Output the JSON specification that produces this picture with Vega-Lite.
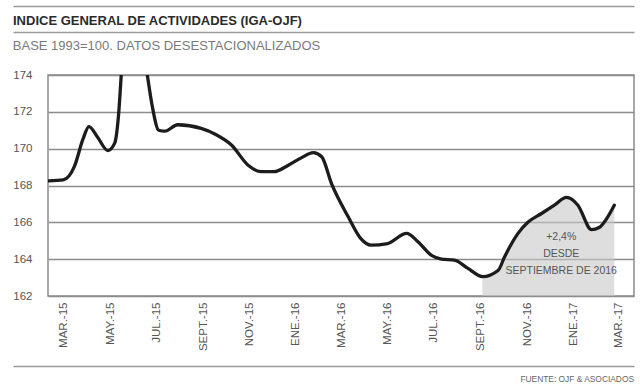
{
  "$schema": "https://vega.github.io/schema/vega-lite/v6.json",
  "padding": {"left": 12, "top": 6, "right": 0, "bottom": 0},
  "background": "white",
  "config": {
    "view": {"stroke": "#8c8c8c", "strokeWidth": 1.5},
    "title": {"fontWeight": "normal"}
  },
  "datasets": {
    "iga": [
      {"fecha": "2015-02-09", "valor": 168.25},
      {"fecha": "2015-02-28", "valor": 168.3},
      {"fecha": "2015-03-15", "valor": 169.05},
      {"fecha": "2015-03-26", "valor": 170.5},
      {"fecha": "2015-04-03", "valor": 171.2},
      {"fecha": "2015-04-14", "valor": 170.65},
      {"fecha": "2015-04-28", "valor": 169.9},
      {"fecha": "2015-05-07", "valor": 170.3},
      {"fecha": "2015-05-12", "valor": 171.8},
      {"fecha": "2015-05-16", "valor": 174.2},
      {"fecha": "2015-06-02", "valor": 179.0},
      {"fecha": "2015-06-19", "valor": 174.0},
      {"fecha": "2015-06-26", "valor": 172.2},
      {"fecha": "2015-07-04", "valor": 171.0},
      {"fecha": "2015-07-12", "valor": 170.95},
      {"fecha": "2015-07-29", "valor": 171.3},
      {"fecha": "2015-08-29", "valor": 171.1},
      {"fecha": "2015-09-16", "valor": 170.8},
      {"fecha": "2015-10-08", "valor": 170.2},
      {"fecha": "2015-10-30", "valor": 169.1},
      {"fecha": "2015-11-16", "valor": 168.75},
      {"fecha": "2015-12-03", "valor": 168.75},
      {"fecha": "2015-12-22", "valor": 169.1},
      {"fecha": "2016-01-08", "valor": 169.5},
      {"fecha": "2016-01-24", "valor": 169.78},
      {"fecha": "2016-02-04", "valor": 169.56},
      {"fecha": "2016-02-17", "valor": 168.1},
      {"fecha": "2016-03-10", "valor": 166.3},
      {"fecha": "2016-03-27", "valor": 165.1},
      {"fecha": "2016-04-09", "valor": 164.76},
      {"fecha": "2016-05-01", "valor": 164.85},
      {"fecha": "2016-05-26", "valor": 165.4},
      {"fecha": "2016-06-10", "valor": 164.95},
      {"fecha": "2016-06-28", "valor": 164.2},
      {"fecha": "2016-07-11", "valor": 164.0},
      {"fecha": "2016-07-28", "valor": 163.95},
      {"fecha": "2016-08-15", "valor": 163.5},
      {"fecha": "2016-09-03", "valor": 163.05},
      {"fecha": "2016-09-24", "valor": 163.4},
      {"fecha": "2016-10-02", "valor": 164.1},
      {"fecha": "2016-10-20", "valor": 165.4},
      {"fecha": "2016-11-02", "valor": 166.0},
      {"fecha": "2016-11-20", "valor": 166.48},
      {"fecha": "2016-12-07", "valor": 166.93},
      {"fecha": "2016-12-23", "valor": 167.35},
      {"fecha": "2017-01-07", "valor": 166.93},
      {"fecha": "2017-01-25", "valor": 165.6},
      {"fecha": "2017-02-04", "valor": 165.72},
      {"fecha": "2017-02-24", "valor": 166.93}
    ],
    "nota": [
      {"fecha": "2016-12-16", "valor": 165.22}
    ]
  },
  "align": "none",
  "bounds": "full",
  "spacing": 14,
  "vconcat": [
    {
      "align": "none",
      "bounds": "full",
      "spacing": 6,
      "vconcat": [
        {
          "align": "none",
          "bounds": "full",
          "spacing": 4,
          "vconcat": [
            {
              "width": 586,
              "height": 0.5,
              "view": {"stroke": null},
              "data": {"values": []},
              "mark": "point",
              "encoding": {
                "x": {
                  "field": "a",
                  "type": "quantitative",
                  "scale": {"domain": [0, 1], "range": [-35, 586]},
                  "axis": {"orient": "top", "labels": false, "ticks": false, "grid": false, "title": null, "domain": true, "domainColor": "#9a9a9a", "domainWidth": 1.6}
                }
              },
              "title": {
                "text": "INDICE GENERAL DE ACTIVIDADES (IGA-OJF)",
                "orient": "bottom",
                "anchor": "start",
                "frame": "group",
                "dx": -35,
                "font": "Liberation Sans",
                "fontWeight": "bold",
                "fontSize": 13,
                "color": "#2b2b2b",
                "baseline": "top",
                "offset": 8
              }
            },
            {
              "width": 586,
              "height": 0.5,
              "view": {"stroke": null},
              "data": {"values": []},
              "mark": "point",
              "encoding": {
                "x": {
                  "field": "a",
                  "type": "quantitative",
                  "scale": {"domain": [0, 1], "range": [-35, 586]},
                  "axis": {"orient": "top", "labels": false, "ticks": false, "grid": false, "title": null, "domain": true, "domainColor": "#9a9a9a", "domainWidth": 1.6}
                }
              }
            }
          ]
        },
        {
          "width": 586,
          "height": 221,
          "view": {"stroke": "#8c8c8c", "strokeWidth": 1.5},
          "title": {
            "text": "BASE 1993=100. DATOS DESESTACIONALIZADOS",
            "anchor": "start",
            "frame": "bounds",
            "font": "Liberation Sans",
            "fontSize": 13,
            "fontWeight": "normal",
            "color": "#7a7a7a",
            "offset": 16
          },
          "encoding": {
            "x": {
              "field": "fecha",
              "type": "temporal",
              "scale": {
                "type": "utc",
                "domain": [
                  {"year": 2015, "month": 2, "date": 8, "utc": true},
                  {"year": 2017, "month": 3, "date": 22, "utc": true}
                ]
              },
              "axis": {
                "values": [
                  {"year": 2015, "month": 3, "date": 1, "utc": true},
                  {"year": 2015, "month": 5, "date": 1, "utc": true},
                  {"year": 2015, "month": 7, "date": 1, "utc": true},
                  {"year": 2015, "month": 9, "date": 1, "utc": true},
                  {"year": 2015, "month": 11, "date": 1, "utc": true},
                  {"year": 2016, "month": 1, "date": 1, "utc": true},
                  {"year": 2016, "month": 3, "date": 1, "utc": true},
                  {"year": 2016, "month": 5, "date": 1, "utc": true},
                  {"year": 2016, "month": 7, "date": 1, "utc": true},
                  {"year": 2016, "month": 9, "date": 1, "utc": true},
                  {"year": 2016, "month": 11, "date": 1, "utc": true},
                  {"year": 2017, "month": 1, "date": 1, "utc": true},
                  {"year": 2017, "month": 3, "date": 1, "utc": true}
                ],
                "labelExpr": "['ENE.','FEB.','MAR.','ABR.','MAY.','JUN.','JUL.','AGO.','SEPT.','OCT.','NOV.','DIC.'][utcmonth(datum.value)] + '-' + utcFormat(datum.value, '%y')",
                "labelAngle": 270,
                "labelFont": "Liberation Sans",
                "labelFontSize": 11.5,
                "labelColor": "#555555",
                "labelPadding": 6,
                "labelOverlap": false,
                "labelBound": false,
                "labelFlush": false,
                "ticks": false,
                "domain": false,
                "grid": false,
                "title": null
              }
            },
            "y": {
              "field": "valor",
              "type": "quantitative",
              "scale": {"domain": [162, 174], "zero": false, "nice": false},
              "axis": {
                "values": [162, 164, 166, 168, 170, 172, 174],
                "grid": true,
                "gridColor": "#8c8c8c",
                "gridWidth": 1.3,
                "ticks": false,
                "domain": false,
                "labelFont": "Liberation Sans",
                "labelFontSize": 11.5,
                "labelColor": "#555555",
                "labelPadding": 16,
                "labelFlush": false,
                "title": null
              }
            }
          },
          "layer": [
            {
              "data": {"name": "iga"},
              "transform": [
                {"filter": {"field": "fecha", "gte": {"year": 2016, "month": 9, "date": 3, "utc": true}}}
              ],
              "mark": {"type": "area", "interpolate": "monotone", "color": "#c8c8c8", "opacity": 0.6},
              "encoding": {"y2": {"datum": 162}}
            },
            {
              "data": {"name": "iga"},
              "mark": {"type": "line", "interpolate": "monotone", "color": "#1c1c1c", "strokeWidth": 3.3, "clip": true, "strokeCap": "round"}
            },
            {
              "data": {"name": "nota"},
              "mark": {
                "type": "text",
                "text": ["+2,4%", "DESDE", "SEPTIEMBRE DE 2016"],
                "font": "Liberation Sans",
                "fontSize": 10.5,
                "color": "#555555",
                "lineHeight": 17,
                "align": "center",
                "baseline": "middle"
              }
            }
          ]
        }
      ]
    },
    {
      "width": 586,
      "height": 0.5,
      "view": {"stroke": null},
      "data": {"values": []},
      "mark": "point",
      "encoding": {
        "x": {
          "field": "a",
          "type": "quantitative",
          "scale": {"domain": [0, 1], "range": [-35, 586]},
          "axis": {"orient": "top", "labels": false, "ticks": false, "grid": false, "title": null, "domain": true, "domainColor": "#9a9a9a", "domainWidth": 1.6}
        }
      },
      "title": {
        "text": "FUENTE: OJF & ASOCIADOS",
        "orient": "bottom",
        "anchor": "end",
        "frame": "group",
        "font": "Liberation Sans",
        "fontSize": 8.4,
        "fontWeight": "normal",
        "color": "#666666",
        "offset": 8
      }
    }
  ]
}
